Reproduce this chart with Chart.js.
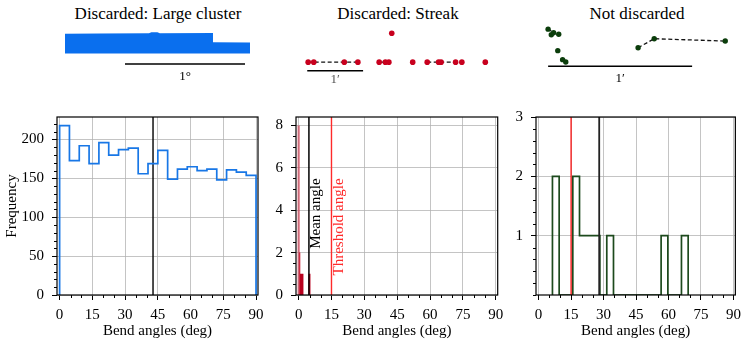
<!DOCTYPE html>
<html lang="en">
<head>
<meta charset="UTF-8" />
<title>Bend angles</title>
<script src="https://cdn.jsdelivr.net/npm/chart.js"></script>
<style>
  body { margin: 0; background: #fff; width: 747px; height: 347px; position: relative; overflow: hidden; font-family: "Liberation Serif", serif; }
  canvas { position: absolute; }
  .title { position: absolute; top: 4px; font-size: 17px; transform: translateX(-50%); white-space: nowrap; color: #000; }
</style>
</head>
<body>
<div class="title" style="left:158px">Discarded: Large cluster</div>
<div class="title" style="left:398px">Discarded: Streak</div>
<div class="title" style="left:637px">Not discarded</div>

<canvas id="sk1" width="230" height="73" style="left:40px; top:22px"></canvas>
<canvas id="sk2" width="250" height="75" style="left:250px; top:20px"></canvas>
<canvas id="sk3" width="227" height="77" style="left:520px; top:18px"></canvas>

<canvas id="h1" width="270" height="247" style="left:0px; top:100px"></canvas>
<canvas id="h2" width="248" height="247" style="left:262px; top:100px"></canvas>
<canvas id="h3" width="245" height="247" style="left:502px; top:100px"></canvas>

<script>
// ---- histogram data (bend angles, deg) ----
const clusterEdges = [0, 4.5, 9, 13.5, 18, 22.5, 27, 31.5, 36, 40.5, 45, 49.5, 54, 58.5, 63, 67.5, 72, 76.5, 81, 85.5, 90];
const clusterCounts = [218, 173, 192, 169, 196, 180, 187, 189, 156, 169, 186, 149, 162, 165, 160, 162, 148, 161, 158, 154];
const clusterMean = 42.8;

// streak: filled bars (left edge, right edge, count)
const streakLo = [-0.6, 0.1, 0.6, 4.4];
const streakHi = [0.6, 0.9, 2.3, 5.5];
const streakN = [8, 2, 1, 1];
const streakMean = 4.7;
const threshold = 15;

const goodEdges = [6.4, 9.5, 12.7, 15.8, 18.9, 22.1, 25.2, 28.3, 31.5, 34.6, 37.8, 40.9, 44.0, 47.2, 50.3, 53.4, 56.6, 59.7, 62.8, 66.0, 69.1];
const goodCounts = [2, 0, 0, 2, 1, 1, 1, 0, 1, 0, 0, 0, 0, 0, 0, 0, 1, 0, 0, 1];
const goodMean = 28.0;

// ---- ticks ----
const xTicks = [0, 5, 10, 15, 20, 25, 30, 35, 40, 45, 50, 55, 60, 65, 70, 75, 80, 85, 90];
const xMajor = [0, 15, 30, 45, 60, 75, 90];
const y1Ticks = [0, 10, 20, 30, 40, 50, 60, 70, 80, 90, 100, 110, 120, 130, 140, 150, 160, 170, 180, 190, 200, 210, 220];
const y1Major = [0, 50, 100, 150, 200];
const y2Ticks = [0, 0.5, 1, 1.5, 2, 2.5, 3, 3.5, 4, 4.5, 5, 5.5, 6, 6.5, 7, 7.5, 8];
const y2Major = [0, 2, 4, 6, 8];
const y3Ticks = [0, 0.2, 0.4, 0.6, 0.8, 1, 1.2, 1.4, 1.6, 1.8, 2, 2.2, 2.4, 2.6, 2.8, 3];
const y3Major = [1, 2, 3];

// ---- sketch data ----
// large cluster outline (deg): top edge, filled down to the bottom edge
const clusterTopX = [-0.5, -0.21, 0.2, 0.22, 0.27, 0.29, 0.733, 0.733, 1.042];
const clusterTopY = [0.252, 0.254, 0.256, 0.264, 0.264, 0.257, 0.258, 0.181, 0.179];
const clusterBottomY = 0.088;

// streak sources (arcsec)
const streakX = [1.0, 7.0, 39.8, 54.4, 77.3, 83.9, 87.7, 113.3, 128.9, 141.1, 143.8, 159.4, 166.1, 191.3, 90.8];
const streakY = [10, 10, 10, 10, 10, 10, 10, 10, 10, 10, 10, 10, 10, 10, 43.7];
const streakTracks = [[0, 1, 2, 3], [4, 5, 6], [8, 9, 10, 11, 12]];

// not discarded sources (arcsec)
const goodX = [0, 1.33, 2.29, 4.42, 4.02, 6.03, 7.36, 37.5, 44.2, 73.8];
const goodY = [16.6, 14.07, 15.0, 14.3, 6.95, 2.93, 1.85, 8.28, 12.3, 11.25];
const goodTracks = [[0, 2], [7, 8, 9]];

Chart.defaults.font.family = '"Liberation Serif", serif';
Chart.defaults.font.size = 15;
Chart.defaults.color = '#000';

const GRID = 'rgba(176,176,176,0.75)';
const NONE = 'rgba(0,0,0,0)';
const X_MIN = -1.2, X_MAX = 90.9;

function pts(xs, ys) { return xs.map((x, i) => ({x: x, y: ys[i]})); }

function stepLine(edges, counts) {
  const p = [{x: edges[0], y: 0}];
  counts.forEach((c, i) => { p.push({x: edges[i], y: c}); p.push({x: edges[i + 1], y: c}); });
  p.push({x: edges[edges.length - 1], y: 0});
  return p;
}

function vline(x, top, color, width) {
  return { data: [{x: x, y: 0}, {x: x, y: top}], borderColor: color, borderWidth: width, pointRadius: 0, fill: false };
}

function isMajor(list) { return c => !!(c.tick && list.includes(c.tick.value)); }

function xAxis() {
  const maj = isMajor(xMajor);
  return {
    type: 'linear', min: X_MIN, max: X_MAX,
    afterBuildTicks: s => { s.ticks = xTicks.map(v => ({value: v})); },
    afterFit: s => { s.height = 52; },
    ticks: { autoSkip: false, maxRotation: 0, padding: 6, callback: v => xMajor.includes(v) ? String(v) : '' },
    grid: { color: c => maj(c) ? GRID : NONE, tickColor: c => maj(c) ? '#000' : NONE, tickLength: 5 },
    border: { display: false },
    title: { display: true, text: 'Bend angles (deg)', padding: {top: 0, bottom: 7} }
  };
}

function yAxis(ticks, major, max, width, title) {
  const maj = isMajor(major);
  return {
    type: 'linear', min: 0, max: max,
    afterBuildTicks: s => { s.ticks = ticks.map(v => ({value: v})); },
    afterFit: s => { s.width = width; },
    ticks: { autoSkip: false, padding: 8, callback: v => major.includes(v) ? String(v) : '' },
    grid: { color: c => maj(c) ? GRID : NONE, tickColor: c => maj(c) ? '#000' : NONE, tickLength: 5 },
    border: { display: false },
    title: { display: !!title, text: title || '', padding: {top: 3, bottom: 0} }
  };
}

// box around the axes + short minor ticks
const frame = {
  id: 'frame',
  afterDatasetsDraw(chart) {
    const a = chart.chartArea, ctx = chart.ctx;
    const {x, y} = chart.scales;
    ctx.save();
    ctx.strokeStyle = '#000';
    ctx.lineWidth = 1;
    ctx.beginPath();
    xTicks.filter(v => !xMajor.includes(v)).forEach(v => {
      const px = Math.round(x.getPixelForValue(v)) + 0.5;
      ctx.moveTo(px, a.bottom); ctx.lineTo(px, a.bottom + 3);
    });
    chart.options.minorY.forEach(v => {
      const py = Math.round(y.getPixelForValue(v)) + 0.5;
      ctx.moveTo(a.left, py); ctx.lineTo(a.left - 3, py);
    });
    ctx.stroke();
    ctx.lineWidth = 1.2;
    ctx.strokeRect(a.left, a.top, a.right - a.left, a.bottom - a.top);
    ctx.restore();
  }
};

function histChart(id, o) {
  return new Chart(document.getElementById(id), {
    type: 'line',
    data: { datasets: o.datasets },
    options: {
      responsive: false, animation: false, devicePixelRatio: 1,
      minorY: o.yTicks.filter(v => !o.yMajor.includes(v)),
      layout: { padding: { left: 0, right: o.padRight, top: 15, bottom: 0 } },
      plugins: { legend: { display: false }, tooltip: { enabled: false } },
      elements: { point: { radius: 0 }, line: { tension: 0 } },
      scales: { x: xAxis(), y: yAxis(o.yTicks, o.yMajor, o.yMax, o.yWidth, o.yTitle) }
    },
    plugins: [frame].concat(o.plugins || [])
  });
}

// ---- histograms ----
histChart('h1', {
  yTicks: y1Ticks, yMajor: y1Major, yMax: 229, yWidth: 57, yTitle: 'Frequency', padRight: 12,
  datasets: [
    { data: stepLine(clusterEdges, clusterCounts), borderColor: '#1877e6', borderWidth: 1.7, pointRadius: 0, fill: false },
    vline(clusterMean, 229, '#000', 1.4)
  ]
});

const streakBars = streakN.map((n, i) => ({
  data: stepLine([streakLo[i], streakHi[i]], [n]),
  borderWidth: 0, pointRadius: 0, fill: 'origin',
  backgroundColor: i === 0 ? 'rgba(205,20,45,0.5)' : (i === 1 ? 'rgba(190,0,30,0.75)' : '#b8001e')
}));

const angleText = {
  id: 'angleText',
  afterDatasetsDraw(chart) {
    const ctx = chart.ctx, x = chart.scales.x, y = chart.scales.y;
    [[streakMean + 4.9, 'Mean angle', '#000'], [threshold + 5.1, 'Threshold angle', '#ff2a2a']].forEach(([vx, txt, col]) => {
      ctx.save();
      ctx.translate(x.getPixelForValue(vx), y.getPixelForValue(5.5));
      ctx.rotate(-Math.PI / 2);
      ctx.font = '15px "Liberation Serif"';
      ctx.fillStyle = col;
      ctx.textAlign = 'right';
      ctx.textBaseline = 'alphabetic';
      ctx.fillText(txt, 0, 0);
      ctx.restore();
    });
  }
};

histChart('h2', {
  yTicks: y2Ticks, yMajor: y2Major, yMax: 8.4, yWidth: 34, padRight: 12.3, plugins: [angleText],
  datasets: [
    vline(streakMean, 8.4, '#000', 1.5),
    vline(threshold, 8.4, '#ff2a2a', 1.4)
  ].concat(streakBars)
});

histChart('h3', {
  yTicks: y3Ticks, yMajor: y3Major, yMax: 3, yWidth: 34, padRight: 9.3,
  datasets: [
    vline(threshold, 3, '#ff0000', 1.2),
    vline(goodMean, 3, '#222', 1.8),
    { data: stepLine(goodEdges, goodCounts), borderColor: '#1d4a1d', borderWidth: 1.7, pointRadius: 0, fill: false }
  ]
});

// ---- sketches ----
function barLabel(text, lx, ly, color) {
  return {
    id: 'barLabel',
    afterDatasetsDraw(chart) {
      const ctx = chart.ctx;
      ctx.save();
      ctx.font = '13px "Liberation Serif"';
      ctx.fillStyle = color;
      ctx.textAlign = 'center';
      ctx.textBaseline = 'middle';
      ctx.fillText(text, chart.scales.x.getPixelForValue(lx), chart.scales.y.getPixelForValue(ly));
      ctx.restore();
    }
  };
}

function sketch(id, xr, yr, datasets, plugin) {
  return new Chart(document.getElementById(id), {
    type: 'line',
    data: { datasets: datasets },
    options: {
      responsive: false, animation: false, devicePixelRatio: 1,
      layout: { padding: 0 },
      plugins: { legend: { display: false }, tooltip: { enabled: false } },
      elements: { line: { tension: 0 } },
      scales: {
        x: { type: 'linear', display: false, min: xr[0], max: xr[1] },
        y: { type: 'linear', display: false, min: yr[0], max: yr[1] }
      }
    },
    plugins: [plugin]
  });
}

function dots(xs, ys, color, r) {
  return { data: pts(xs, ys), showLine: false, pointRadius: r, pointBackgroundColor: color, pointBorderWidth: 0, clip: false };
}
function tracks(list, xs, ys) {
  return list.map(t => ({
    data: t.map(i => ({x: xs[i], y: ys[i]})), borderColor: '#111', borderWidth: 1.3, borderDash: [4, 2.5], pointRadius: 0, fill: false
  }));
}
function scaleBar(len) {
  return { data: [{x: 0, y: 0}, {x: len, y: 0}], borderColor: '#000', borderWidth: 1.5, pointRadius: 0, fill: false };
}

sketch('sk1', [-0.708, 1.208], [-0.258, 0.35], [
  { data: pts(clusterTopX, clusterTopY), borderWidth: 0, pointRadius: 0, fill: { value: clusterBottomY }, backgroundColor: '#0a6fee' },
  scaleBar(1)
], barLabel('1°', 0.5, -0.106, '#000'));

sketch('sk2', [-57.2, 202.8], [-23.6, 54.4],
  [dots(streakX, streakY, '#c8001e', 2.8)].concat(tracks(streakTracks, streakX, streakY), [scaleBar(60)]),
  barLabel('1′', 30, -10.4, '#555'));

sketch('sk3', [-10.05, 81.2], [-11.13, 19.8],
  [dots(goodX, goodY, '#0b3d0b', 2.7)].concat(tracks(goodTracks, goodX, goodY), [scaleBar(60)]),
  barLabel('1′', 30, -5.4, '#000'));
</script>
</body>
</html>
